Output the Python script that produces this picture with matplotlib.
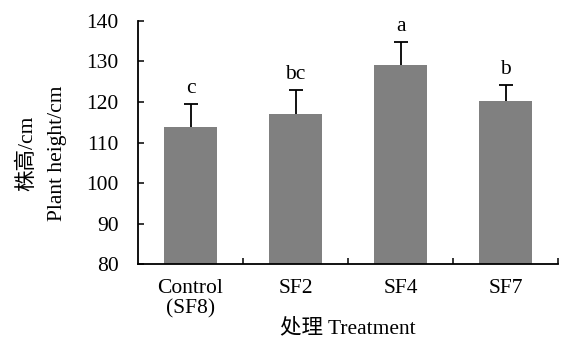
import matplotlib
matplotlib.use("Agg")
import matplotlib.pyplot as plt

categories = ["Control\n(SF8)", "SF2", "SF4", "SF7"]
heights = [113.8, 117.0, 129.1, 120.2]
errors = [5.7, 6.0, 5.7, 4.1]
letters = ["c", "bc", "a", "b"]

plt.rcParams["font.family"] = ["Liberation Serif", "Noto Sans CJK SC"]
plt.rcParams["font.size"] = 15.5

fig = plt.figure(figsize=(5.61, 3.43), dpi=100)
ax = fig.add_axes([0.246, 0.230, 0.749, 0.709])

x = list(range(len(categories)))
ax.bar(x, [h - 80 for h in heights], bottom=80, width=0.5, color="#808080", zorder=2)
_, caps, _ = ax.errorbar(x, heights, yerr=[[0] * len(errors), errors], fmt="none",
                         ecolor="black", elinewidth=1.3, capsize=5, capthick=1.3, zorder=3)
caps[0].set_visible(False)  # only the upper cap
for xi, h, e, lab in zip(x, heights, errors, letters):
    ax.annotate(lab, (xi, h + e), xytext=(0, 4), textcoords="offset points",
                ha="center", va="bottom")

ax.set_xlim(-0.5, 3.5)
ax.set_ylim(80, 140)
ax.set_yticks(range(80, 141, 10))
ax.set_xticks(x)
ax.set_xticklabels(categories, linespacing=1.05)
ax.set_xticks([0.5, 1.5, 2.5, 3.5], minor=True)
ax.tick_params(axis="x", which="major", length=0, pad=11)
ax.tick_params(axis="x", which="minor", direction="in", length=4.5, width=1.1)
ax.tick_params(axis="y", direction="in", length=4.5, width=1.1, pad=14)

for side in ("top", "right"):
    ax.spines[side].set_visible(False)
for side in ("left", "bottom"):
    ax.spines[side].set_linewidth(1.3)

ax.set_xlabel("处理 Treatment", labelpad=0)
ax.set_ylabel("株高/cm\nPlant height/cm", linespacing=1.75)
ax.yaxis.set_label_coords(-0.17, 0.455)

fig.savefig("out.png", dpi=100)
